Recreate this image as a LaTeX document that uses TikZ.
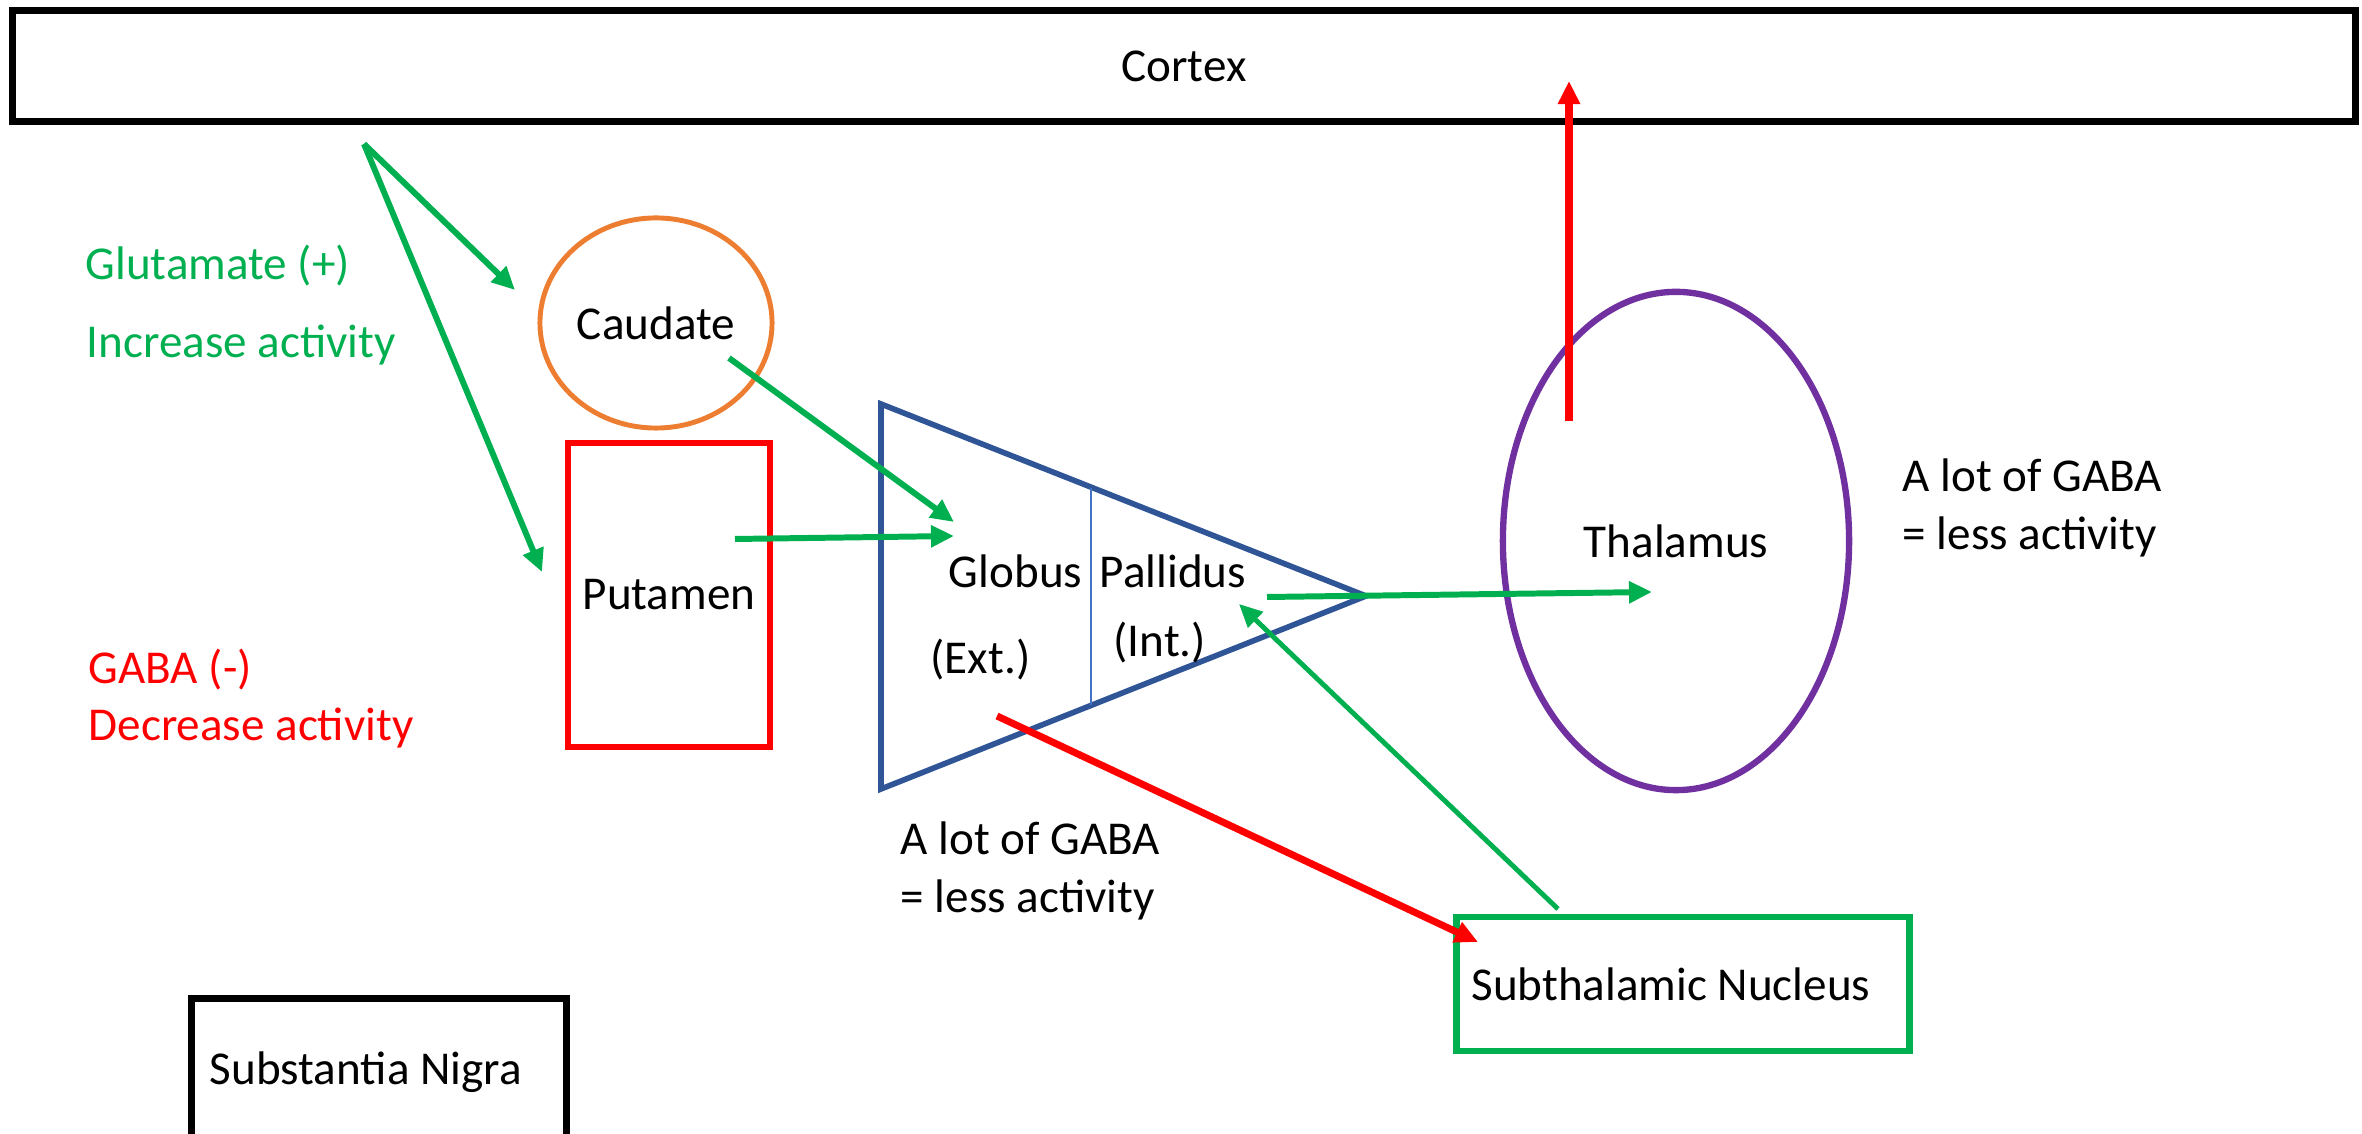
\documentclass[tikz,border=0pt]{standalone}
\usepackage{fontspec}
\setmainfont{Carlito}
\usetikzlibrary{arrows.meta,shapes.geometric}
\definecolor{glugreen}{HTML}{00B050}
\definecolor{gabared}{HTML}{FF0000}
\definecolor{caudorange}{HTML}{ED7D31}
\definecolor{gpblue}{HTML}{2F5597}
\definecolor{gpline}{HTML}{4472C4}
\definecolor{thalpurple}{HTML}{7030A0}

\begin{document}
\begin{tikzpicture}[x=0.01cm, y=-0.01cm,
  font=\fontsize{13.4pt}{16pt}\selectfont,
  lbl/.style={inner sep=0pt, anchor=base west},
  glu/.style={-{Triangle[length=0.23cm, width=0.21cm]}, glugreen, line width=1.7pt},
  gaba/.style={-{Triangle[length=0.23cm, width=0.21cm]}, gabared, line width=2pt}]

  % Layout frame
  \path[use as bounding box, clip] (0,0) rectangle (2362,1134);

  % -------- cortex --------
  \node[draw, line width=2pt, minimum width=23.41cm, minimum height=1.11cm, inner sep=0pt] (cortex) at (1184,66) {Cortex};

  % -------- caudate and putamen --------
  \node[ellipse, draw=caudorange, line width=1.4pt, minimum width=2.32cm, minimum height=2.10cm, inner sep=0pt] (caudate) at (656,323) {Caudate};
  \node[draw=gabared, line width=1.7pt, minimum width=2.02cm, minimum height=3.04cm, inner sep=0pt] (putamen) at (669,595) {Putamen};

  % -------- globus pallidus --------
  \draw[gpblue, line width=1.6pt] (881,404) -- (1366,596) -- (881,789) -- cycle;
  \draw[gpline, line width=0.5pt] (1091,488) -- (1091,705);
  \node[inner sep=0pt, anchor=base east] (globus) at (1083,588) {Globus};
  \node[lbl] (pallidus) at (1099,588) {Pallidus};
  \node[lbl] (ext) at (930,674) {(Ext.)};
  \node[lbl] (int) at (1113,657) {(Int.)};

  % -------- thalamus --------
  \node[ellipse, draw=thalpurple, line width=1.8pt, minimum width=3.46cm, minimum height=4.98cm, inner sep=0pt] (thalamus) at (1676,541) {Thalamus};

  % -------- subthalamic nucleus, substantia nigra --------
  \node[draw=glugreen, line width=1.8pt, text width=4.23cm, align=flush left, inner xsep=0.15cm, inner ysep=0pt, minimum height=1.34cm] (stn) at (1683,984) {Subthalamic Nucleus};
  \node[draw, line width=2pt, text width=3.38cm, align=flush left, inner xsep=0.18cm, inner ysep=0pt, minimum height=1.46cm] (nigra) at (379,1072) {Substantia Nigra};

  % -------- legend texts --------
  \node[lbl, glugreen] (glut) at (85,280) {Glutamate (+)};
  \node[lbl, glugreen] (incr) at (86,358) {Increase activity};
  \node[lbl, gabared] (gaba) at (88,684) {GABA (-)};
  \node[lbl, gabared] (decr) at (88,741) {Decrease activity};
  \node[lbl] (lotA) at (1902,492) {A lot of GABA};
  \node[lbl] (lessA) at (1902,550) {= less activity};
  \node[lbl] (lotB) at (900,855) {A lot of GABA};
  \node[lbl] (lessB) at (900,913) {= less activity};

  % -------- arrow ends --------
  \coordinate (ctxsrc) at (364,144);
  \coordinate (cauin) at (515,290);
  \coordinate (putin) at (542,572);
  \coordinate (cauout) at (729,358);
  \coordinate (gpein) at (954,522);
  \coordinate (putout) at (735,539);
  \coordinate (gpein2) at (954,536);
  \coordinate (gpeout) at (997,716);
  \coordinate (stnin) at (1478,942);
  \coordinate (stnout) at (1558,909);
  \coordinate (gpiin) at (1239,604);
  \coordinate (gpiout) at (1267,597);
  \coordinate (thain) at (1652,592);
  \coordinate (thaout) at (1569,421);
  \coordinate (ctxin) at (1569,81);

  % -------- arrows --------
  \draw[glu] (ctxsrc) -- (cauin);
  \draw[glu] (ctxsrc) -- (putin);
  \draw[glu] (cauout) -- (gpein);
  \draw[glu] (putout) -- (gpein2);
  \draw[gaba] (gpeout) -- (stnin);
  \draw[glu, line width=1.4pt] (stnout) -- (gpiin);
  \draw[glu] (gpiout) -- (thain);
  \draw[gaba] (thaout) -- (ctxin);
\end{tikzpicture}
\end{document}
